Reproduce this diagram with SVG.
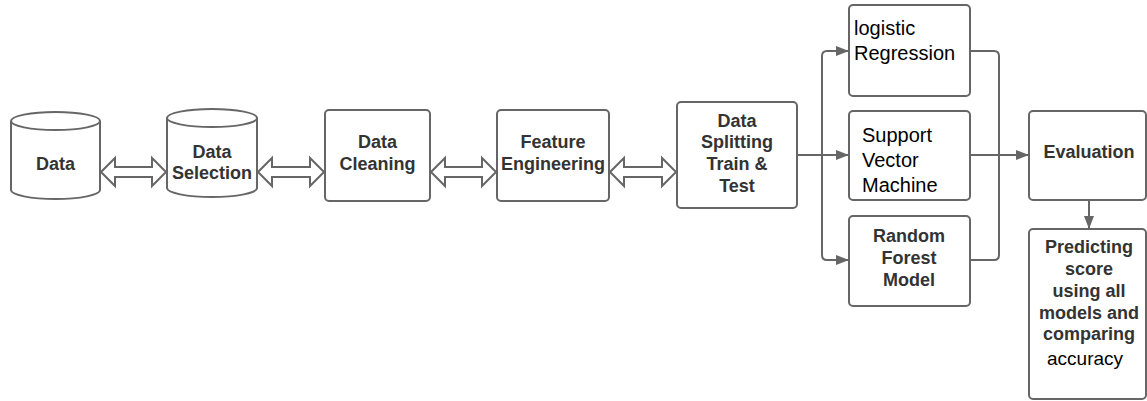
<svg xmlns="http://www.w3.org/2000/svg" width="1147" height="401" viewBox="0 0 1147 401">
<defs>
<style>
.sh{fill:#fff;stroke:#666;stroke-width:2}
.b{font-family:"Liberation Sans",Arial,sans-serif;font-weight:bold;font-size:18px;fill:#333;text-anchor:middle}
.r{font-family:"Liberation Sans",Arial,sans-serif;font-size:20px;fill:#000}
.c{fill:none;stroke:#666;stroke-width:2}
</style>
<marker id="ah" markerUnits="userSpaceOnUse" markerWidth="13" markerHeight="10" refX="13" refY="5" orient="auto">
<path d="M0,0 L13,5 L0,10 z" fill="#666"/>
</marker>
</defs>
<rect width="1147" height="401" fill="#fff"/>
<g id="data">
<path class="sh" d="M11,121 L11,190 A44.5,9 0 0 0 100,190 L100,121"/>
<ellipse class="sh" cx="55.5" cy="121" rx="44.5" ry="9"/>
<text class="b" x="55.5" y="170">Data</text>
</g>
<g id="data-selection">
<path class="sh" d="M167,118 L167,188 A45,9 0 0 0 257,188 L257,118"/>
<ellipse class="sh" cx="212" cy="118" rx="45" ry="9"/>
<text class="b" x="212" y="158">Data</text>
<text class="b" x="212" y="179">Selection</text>
</g>
<g id="data-cleaning">
<rect class="sh" x="325" y="110" width="105" height="91" rx="4"/>
<text class="b" x="377.5" y="148">Data</text>
<text class="b" x="377.5" y="170">Cleaning</text>
</g>
<g id="feature-engineering">
<rect class="sh" x="497" y="110" width="112" height="91" rx="4"/>
<text class="b" x="553" y="148">Feature</text>
<text class="b" x="553" y="170">Engineering</text>
</g>
<g id="data-splitting">
<rect class="sh" x="677" y="102" width="120" height="106" rx="4"/>
<text class="b" x="737" y="127">Data</text>
<text class="b" x="737" y="148">Splitting</text>
<text class="b" x="737" y="170">Train &amp;</text>
<text class="b" x="737" y="192">Test</text>
</g>
<g id="logistic-regression">
<rect class="sh" x="849" y="5" width="121" height="91" rx="4"/>
<text class="r" x="854" y="35">logistic</text>
<text class="r" x="854" y="60">Regression</text>
</g>
<g id="svm">
<rect class="sh" x="849" y="111" width="121" height="89" rx="4"/>
<text class="r" x="862" y="142">Support</text>
<text class="r" x="862" y="167">Vector</text>
<text class="r" x="862" y="192">Machine</text>
</g>
<g id="random-forest">
<rect class="sh" x="849" y="216" width="121" height="90" rx="4"/>
<text class="b" x="909" y="242">Random</text>
<text class="b" x="909" y="264">Forest</text>
<text class="b" x="909" y="286">Model</text>
</g>
<g id="evaluation">
<rect class="sh" x="1029" y="111" width="117" height="89" rx="4"/>
<text class="b" x="1089" y="158">Evaluation</text>
</g>
<g id="predicting">
<rect class="sh" x="1029" y="229" width="117" height="170" rx="4"/>
<text class="b" x="1089" y="253">Predicting</text>
<text class="b" x="1089" y="275">score</text>
<text class="b" x="1089" y="297">using all</text>
<text class="b" x="1089" y="319">models and</text>
<text class="b" x="1089" y="340">comparing</text>
<text class="r" x="1047" y="365" style="font-size:19px">accuracy</text>
</g>
<g id="connectors">
<polygon class="sh" points="101,172 115,158 115,167 152,167 152,158 166,172 152,186 152,177 115,177 115,186"/>
<polygon class="sh" points="258,172 272,158 272,167 310,167 310,158 324,172 310,186 310,177 272,177 272,186"/>
<polygon class="sh" points="431,172 445,158 445,167 482,167 482,158 496,172 482,186 482,177 445,177 445,186"/>
<polygon class="sh" points="610,172 624,158 624,167 662,167 662,158 676,172 662,186 662,177 624,177 624,186"/>
<path class="c" d="M797,155 H822"/>
<path class="c" d="M822,155 V56 Q822,51 827,51 H849" marker-end="url(#ah)"/>
<path class="c" d="M822,155 H849" marker-end="url(#ah)"/>
<path class="c" d="M822,155 V255 Q822,260 827,260 H849" marker-end="url(#ah)"/>
<path class="c" d="M970,51 H994 Q999,51 999,56 V155"/>
<path class="c" d="M970,260 H994 Q999,260 999,255 V155"/>
<path class="c" d="M970,155 H1029" marker-end="url(#ah)"/>
<path class="c" d="M1089,200 V229" marker-end="url(#ah)"/>
</g>
</svg>
